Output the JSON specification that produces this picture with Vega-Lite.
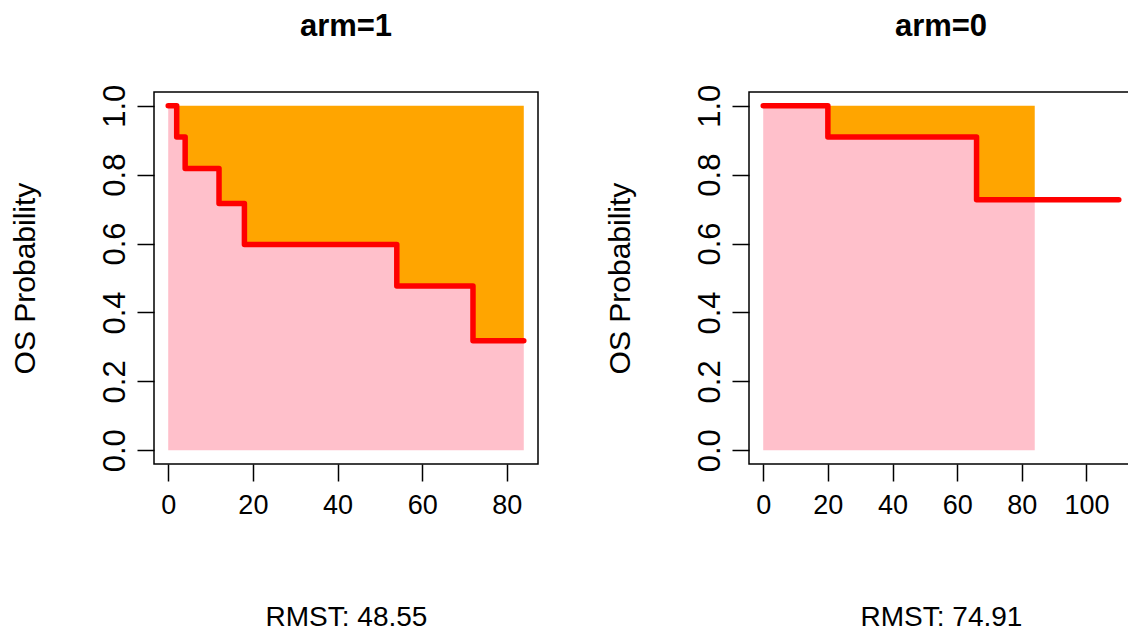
{
  "$schema": "https://vega.github.io/schema/vega-lite/v6.json",
  "padding": {"left": 9, "top": 10, "right": 0, "bottom": 0},
  "background": "white",
  "config": {
    "font": "Liberation Sans",
    "view": {"stroke": "black", "strokeWidth": 1.5},
    "axis": {
      "grid": false,
      "domain": false,
      "tickColor": "black",
      "tickWidth": 1.5,
      "tickSize": 17,
      "labelColor": "black",
      "labelFont": "Liberation Sans",
      "labelFontSize": 27,
      "titleFont": "Liberation Sans",
      "titleFontSize": 30,
      "titleFontWeight": "normal",
      "titleColor": "black"
    },
    "title": {"font": "Liberation Sans", "fontSize": 31, "fontWeight": "bold", "color": "black", "offset": 41},
    "concat": {"spacing": 65}
  },
  "datasets": {
    "km": [
      {"arm": "1", "part": "line", "time": 0, "surv": 1.0},
      {"arm": "1", "part": "line", "time": 2, "surv": 0.909},
      {"arm": "1", "part": "line", "time": 4, "surv": 0.818},
      {"arm": "1", "part": "line", "time": 12, "surv": 0.716},
      {"arm": "1", "part": "line", "time": 18, "surv": 0.597},
      {"arm": "1", "part": "line", "time": 54, "surv": 0.477},
      {"arm": "1", "part": "line", "time": 72, "surv": 0.318},
      {"arm": "1", "part": "line", "time": 84, "surv": 0.318},
      {"arm": "1", "part": "area", "time": 0, "surv": 1.0},
      {"arm": "1", "part": "area", "time": 2, "surv": 0.909},
      {"arm": "1", "part": "area", "time": 4, "surv": 0.818},
      {"arm": "1", "part": "area", "time": 12, "surv": 0.716},
      {"arm": "1", "part": "area", "time": 18, "surv": 0.597},
      {"arm": "1", "part": "area", "time": 54, "surv": 0.477},
      {"arm": "1", "part": "area", "time": 72, "surv": 0.318},
      {"arm": "1", "part": "area", "time": 84, "surv": 0.318},
      {"arm": "0", "part": "line", "time": 0, "surv": 1.0},
      {"arm": "0", "part": "line", "time": 20, "surv": 0.909},
      {"arm": "0", "part": "line", "time": 66, "surv": 0.727},
      {"arm": "0", "part": "line", "time": 110, "surv": 0.727},
      {"arm": "0", "part": "area", "time": 0, "surv": 1.0},
      {"arm": "0", "part": "area", "time": 20, "surv": 0.909},
      {"arm": "0", "part": "area", "time": 66, "surv": 0.727},
      {"arm": "0", "part": "area", "time": 84, "surv": 0.727}
    ]
  },
  "hconcat": [
    {
      "title": "arm=1",
      "width": 384,
      "height": 372,
      "data": {"name": "km"},
      "transform": [{"filter": "datum.arm === '1'"}],
      "encoding": {
        "x": {
          "field": "time", "type": "quantitative",
          "scale": {"domain": [-3.36, 87.36], "nice": false, "zero": false},
          "axis": {"values": [0, 20, 40, 60, 80], "labelPadding": 11, "title": "RMST: 48.55", "titlePadding": 85, "titleFontSize": 28}
        },
        "y": {
          "field": "surv", "type": "quantitative",
          "scale": {"domain": [-0.04, 1.04], "nice": false, "zero": false},
          "axis": {"values": [0, 0.2, 0.4, 0.6, 0.8, 1.0], "format": ".1f", "labelAngle": -90, "labelAlign": "center", "labelBaseline": "alphabetic", "labelPadding": 13, "labelFontSize": 31, "title": "OS Probability", "titlePadding": 59}
        }
      },
      "layer": [
        {
          "transform": [{"filter": "datum.part === 'area'"}],
          "mark": {"type": "area", "interpolate": "step-after", "color": "#FFA500"},
          "encoding": {"y2": {"datum": 1}}
        },
        {
          "transform": [{"filter": "datum.part === 'area'"}],
          "mark": {"type": "area", "interpolate": "step-after", "color": "#FFC0CB"},
          "encoding": {"y2": {"datum": 0}}
        },
        {
          "transform": [{"filter": "datum.part === 'line'"}],
          "mark": {"type": "line", "interpolate": "step-after", "color": "#FF0000", "strokeWidth": 5.5, "strokeCap": "round", "strokeJoin": "round"},
          "encoding": {}
        }
      ]
    },
    {
      "title": "arm=0",
      "width": 384,
      "height": 372,
      "data": {"name": "km"},
      "transform": [{"filter": "datum.arm === '0'"}],
      "encoding": {
        "x": {
          "field": "time", "type": "quantitative",
          "scale": {"domain": [-4.4, 114.4], "nice": false, "zero": false},
          "axis": {"values": [0, 20, 40, 60, 80, 100], "labelPadding": 11, "title": "RMST: 74.91", "titlePadding": 85, "titleFontSize": 28}
        },
        "y": {
          "field": "surv", "type": "quantitative",
          "scale": {"domain": [-0.04, 1.04], "nice": false, "zero": false},
          "axis": {"values": [0, 0.2, 0.4, 0.6, 0.8, 1.0], "format": ".1f", "labelAngle": -90, "labelAlign": "center", "labelBaseline": "alphabetic", "labelPadding": 13, "labelFontSize": 31, "title": "OS Probability", "titlePadding": 59}
        }
      },
      "layer": [
        {
          "transform": [{"filter": "datum.part === 'area'"}],
          "mark": {"type": "area", "interpolate": "step-after", "color": "#FFA500"},
          "encoding": {"y2": {"datum": 1}}
        },
        {
          "transform": [{"filter": "datum.part === 'area'"}],
          "mark": {"type": "area", "interpolate": "step-after", "color": "#FFC0CB"},
          "encoding": {"y2": {"datum": 0}}
        },
        {
          "transform": [{"filter": "datum.part === 'line'"}],
          "mark": {"type": "line", "interpolate": "step-after", "color": "#FF0000", "strokeWidth": 5.5, "strokeCap": "round", "strokeJoin": "round"},
          "encoding": {}
        }
      ]
    }
  ]
}
